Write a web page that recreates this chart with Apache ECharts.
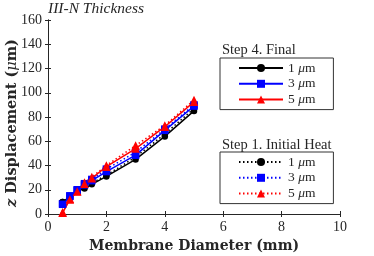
<!DOCTYPE html>
<html><head><meta charset="utf-8">
<script src="https://cdn.jsdelivr.net/npm/echarts@6/dist/echarts.min.js"></script>
<style>html,body{margin:0;padding:0;background:#fff}#c{width:374px;height:256px}</style>
</head><body><div id="c"></div>
<script>
const diameters = [0.5, 0.75, 1, 1.25, 1.5, 2, 3, 4, 5];
const final1 = [10, 14, 19, 21, 24.5, 31, 45, 64, 85];
const final3 = [8, 14.5, 19.5, 24, 27.5, 35, 48.5, 69, 89];
const final5 = [1, 12, 18.5, 25, 29.5, 39, 54, 72, 92.5];
const init1 = [10, 14, 19, 22, 25.5, 32, 47, 66, 87];
const init3 = [8.5, 15, 20, 25, 28.5, 37, 51, 70, 90];
const init5 = [1.5, 12.5, 19, 26, 30.5, 40, 56.5, 73, 94];
const xTicks = [0, 2, 4, 6, 8, 10];
const yTicks = [0, 20, 40, 60, 80, 100, 120, 140, 160];
const legendLabels = ['1 {i|μ}m', '3 {i|μ}m', '5 {i|μ}m'];
const yName = '{i|z} Displacement ({m|μ}m)';

const SERIF = '"Liberation Serif", "DejaVu Serif", serif';
const WIDE = '"DejaVu Serif", serif';
const ink = '#262626';
const pairs = a => diameters.map((d, i) => [d, a[i]]);
const colors = ['#000000', '#0000ff', '#ff0000'];
const symbols = ['circle', 'rect', 'triangle'];
const sizes = [6.5, 7.5, 8.5];
function mk(name, data, k, dotted) {
  return {
    name, type: 'line', data: pairs(data), symbol: symbols[k], symbolSize: sizes[k],
    showSymbol: true, animation: false,
    lineStyle: { color: colors[k], width: 1.5, type: dotted ? [1.5, 2.5] : 'solid' },
    itemStyle: { color: colors[k] }, z: dotted ? 2 : 3
  };
}
const finalNames = ['F1', 'F3', 'F5'], initNames = ['I1', 'I3', 'I5'];
const series = [
  mk('I1', init1, 0, true), mk('I3', init3, 1, true), mk('I5', init5, 2, true),
  mk('F1', final1, 0, false), mk('F3', final3, 1, false), mk('F5', final5, 2, false)
];
const labelFor = n => legendLabels[{ '1': 0, '3': 1, '5': 2 }[n[1]]];
const legendBase = {
  orient: 'vertical', left: 220, itemWidth: 44, itemHeight: 10, itemGap: 1.8,
  padding: [3, 18, 3, 18], borderColor: '#333', borderWidth: 1, backgroundColor: '#fff',
  selectedMode: false, formatter: labelFor,
  textStyle: { fontFamily: SERIF, fontSize: 13.5, color: ink,
    rich: { i: { fontFamily: SERIF, fontStyle: 'italic', fontSize: 13.5, color: ink } } }
};
const axisLine = { show: true, lineStyle: { color: ink, width: 1 } };
const tick = { inside: true, length: 3, lineStyle: { color: ink } };
const option = {
  animation: false,
  grid: { left: 48, right: 34, top: 20, bottom: 42, outerBoundsMode: 'none', containLabel: false },
  title: { text: 'III-N Thickness', left: 48, top: 1, padding: 0,
    textStyle: { fontFamily: SERIF, fontStyle: 'italic', fontWeight: 'normal', fontSize: 15.5, color: ink } },
  xAxis: [{
    type: 'value', min: 0, max: 10, interval: 2,
    axisLine, axisTick: tick,
    axisLabel: { fontFamily: SERIF, fontSize: 14, color: ink, margin: 6 },
    splitLine: { show: false },
    name: 'Membrane Diameter (mm)', nameLocation: 'middle', nameGap: 22,
    nameTextStyle: { fontFamily: WIDE, fontWeight: 'bold', fontSize: 14, color: ink }
  }, {
    type: 'value', position: 'top', min: 0, max: 10, interval: 2,
    axisLine, axisTick: tick, axisLabel: { show: false }, splitLine: { show: false }
  }],
  yAxis: [{
    type: 'value', min: 0, max: 160, interval: 20,
    axisLine, axisTick: tick,
    axisLabel: { fontFamily: SERIF, fontSize: 14, color: ink, margin: 6 },
    splitLine: { show: false }
  }, {
    type: 'value', position: 'right', min: 0, max: 160, interval: 20,
    axisLine, axisTick: tick, axisLabel: { show: false }, splitLine: { show: false }
  }],
  legend: [
    Object.assign({}, legendBase, { top: 58, data: finalNames }),
    Object.assign({}, legendBase, { top: 152, data: initNames })
  ],
  graphic: [
    { type: 'text', left: 222, top: 43, style: { text: 'Step 4. Final', font: '14.5px ' + SERIF, fill: ink } },
    { type: 'text', left: 222, top: 138, style: { text: 'Step 1. Initial Heat', font: '14.5px ' + SERIF, fill: ink } },
    { type: 'text', x: 12, y: 123, rotation: Math.PI / 2,
      style: { text: yName, align: 'center', verticalAlign: 'middle',
        font: 'bold 14.5px ' + WIDE, fill: ink,
        rich: { i: { font: 'italic bold 14.5px ' + WIDE, fill: ink },
                m: { font: 'italic 14.5px ' + WIDE, fill: ink } } } }
  ],
  series
};
const chart = echarts.init(document.getElementById('c'), null, { renderer: 'canvas' });
chart.setOption(option);
</script></body></html>
